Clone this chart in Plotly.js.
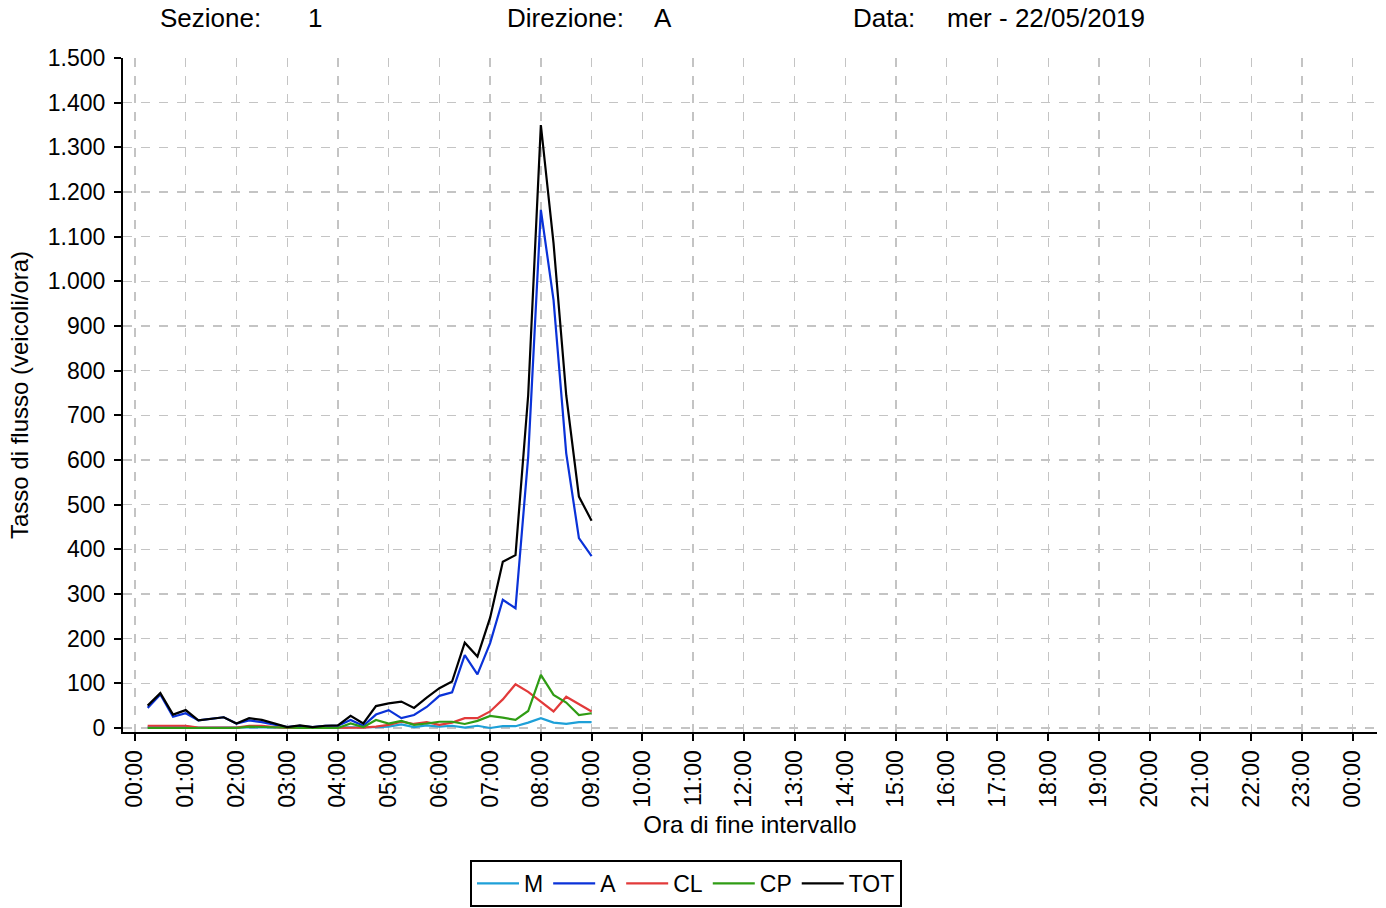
<!DOCTYPE html>
<html>
<head>
<meta charset="utf-8">
<script src="https://cdn.plot.ly/plotly-3.0.1.min.js"></script>
<style>
html,body{margin:0;padding:0;background:#fff;}
#chart{width:1386px;height:908px;}
</style>
</head>
<body>
<div id="chart"></div>
<script>
// interval end times
const times = ["00:15","00:30","00:45","01:00","01:15","01:30","01:45","02:00",
  "02:15","02:30","02:45","03:00","03:15","03:30","03:45","04:00",
  "04:15","04:30","04:45","05:00","05:15","05:30","05:45","06:00",
  "06:15","06:30","06:45","07:00","07:15","07:30","07:45","08:00",
  "08:15","08:30","08:45","09:00"];

const M   = [2,2,2,3,1,1,1,1, 2,2,1,1,1,1,1,1, 2,1,2,3,8,2,6,3, 5,1,5,0,4,4,12,22, 12,9,13,13];
const A   = [45,75,25,33,17,20,24,10, 17,13,8,2,5,2,5,5, 18,5,30,40,22,29,47,72, 80,163,120,190,287,268,607,1160, 958,615,425,385];
const CL  = [5,5,5,5,1,1,1,1, 5,5,2,0,0,0,0,0, 1,1,3,7,14,9,13,7, 12,22,22,37,64,98,81,59, 37,70,54,37];
const CP  = [0,0,0,0,0,0,0,0, 3,2,1,0,0,0,0,0, 10,2,18,10,16,7,10,14, 14,9,16,27,23,18,38,119, 74,57,29,33];
const TOT = [50,78,30,40,17,20,24,10, 22,18,10,2,6,2,5,6, 27,10,49,55,59,45,68,89, 104,191,160,247,372,387,745,1350, 1085,745,518,464];

const tickHours = [0,1,2,3,4,5,6,7,8,9,10,11,12,13,14,15,16,17,18,19,20,21,22,23,24];
const tickLabels = ["00:00","01:00","02:00","03:00","04:00","05:00","06:00","07:00","08:00",
  "09:00","10:00","11:00","12:00","13:00","14:00","15:00","16:00","17:00","18:00","19:00",
  "20:00","21:00","22:00","23:00","00:00"];

const seriesNames = ["M","A","CL","CP","TOT"];
const seriesValues = [M, A, CL, CP, TOT];
const seriesColors = ["#1ea0d8","#0a32d8","#e23a3a","#2f9c14","#000000"];

const xHours = times.map(t => { const p = t.split(":"); return +p[0] + (+p[1])/60; });

const traces = seriesNames.map((n, i) => ({
  x: xHours, y: seriesValues[i], name: n, type: "scatter", mode: "lines",
  line: {color: seriesColors[i], width: 2.2}
}));

const F = "Liberation Sans, Arial, Helvetica, sans-serif";

const headerItems = [
  {text: "Sezione:", x: 158}, {text: "1", x: 306},
  {text: "Direzione:", x: 505}, {text: "A", x: 652},
  {text: "Data:", x: 851}, {text: "mer - 22/05/2019", x: 945}
];
const L = 123, R = 9, T = 58, B = 176, W = 1386, H = 908;
const pw = W - L - R, ph = H - T - B;

const annotations = headerItems.map(h => ({
  text: h.text, xref: "paper", yref: "paper",
  x: (h.x - L) / pw, y: (H - B - 18) / ph, xanchor: "left", yanchor: "middle",
  showarrow: false, font: {family: F, size: 26, color: "#000"}
}));

const layout = {
  width: W, height: H,
  margin: {l: L, r: R, t: T, b: B},
  paper_bgcolor: "#fff", plot_bgcolor: "#fff",
  separators: ",.",
  font: {family: F, size: 23, color: "#000"},
  showlegend: true,
  legend: {
    orientation: "h", xref: "container", yref: "container",
    x: 686 / W, xanchor: "center",
    y: (H - 860) / H, yanchor: "top",
    bordercolor: "#000", borderwidth: 2, bgcolor: "#fff",
    itemwidth: 42,
    font: {family: F, size: 23, color: "#000"}
  },
  xaxis: {
    range: [-0.236, 24.48], tickmode: "array", tickvals: tickHours, ticktext: tickLabels,
    tickangle: -90, showline: true, linecolor: "#000", linewidth: 2,
    ticks: "outside", ticklen: 7, tickwidth: 2, tickcolor: "#000",
    showgrid: true, gridcolor: "#c4c4c4", gridwidth: 1.3, griddash: "dash",
    zeroline: false, automargin: false, tickfont: {family: F, size: 23},
    title: {text: "Ora di fine intervallo", font: {family: F, size: 24}, standoff: 9}
  },
  yaxis: {
    range: [-9, 1500], dtick: 100, tick0: 0, tickformat: ",d",
    showline: true, linecolor: "#000", linewidth: 2,
    ticks: "outside", ticklen: 7, tickwidth: 2, tickcolor: "#000",
    ticklabelstandoff: 4,
    showgrid: true, gridcolor: "#c4c4c4", gridwidth: 1.3, griddash: "dash",
    zeroline: false, automargin: false, tickfont: {family: F, size: 23},
    title: {text: "Tasso di flusso (veicoli/ora)", font: {family: F, size: 24}, standoff: 12}
  },
  annotations: annotations
};

Plotly.newPlot("chart", traces, layout, {displayModeBar: false, staticPlot: true});
</script>
</body>
</html>
